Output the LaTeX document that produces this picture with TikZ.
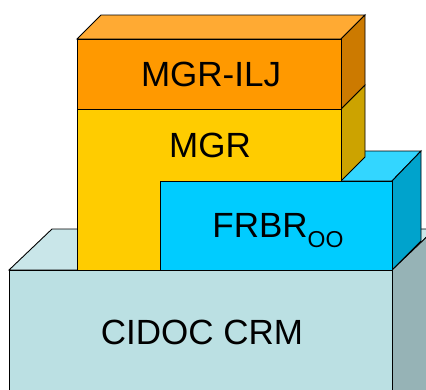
\documentclass[tikz,border=0pt]{standalone}
\usepackage{fontspec}
\setmainfont{Liberation Sans}
\definecolor{iljfront}{HTML}{FF9900}
\definecolor{iljtop}{HTML}{FFAA33}
\definecolor{iljside}{HTML}{CC7A00}
\definecolor{mgrfront}{HTML}{FFCC00}
\definecolor{mgrside}{HTML}{CCA300}
\definecolor{frbrfront}{HTML}{00CCFF}
\definecolor{frbrtop}{HTML}{33D6FF}
\definecolor{frbrside}{HTML}{00A3CC}
\definecolor{crmfront}{HTML}{BBE0E3}
\definecolor{crmtop}{HTML}{C9E6E9}
\definecolor{crmside}{HTML}{96B3B6}
\tikzset{
  face/.style={draw=black, line width=0.9pt, line join=miter},
  layertext/.style={font=\fontsize{35}{40}\selectfont, anchor=base, inner sep=0pt}
}
\begin{document}
\begin{tikzpicture}[x=1pt, y=-1pt]
    \useasboundingbox (0,0) rectangle (426,389);
    \clip (0,0) rectangle (426,389);

    % CIDOC CRM block
    \filldraw[face, fill=crmtop] (9,270) -- (52,229) -- (435,229) -- (392,270) -- cycle;
    \filldraw[face, fill=crmside] (392,270) -- (435,229) -- (435,400) -- (392,400) -- cycle;
    \filldraw[face, fill=crmfront] (9,270) rectangle (392,400);

    % FRBRoo block
    \filldraw[face, fill=frbrtop] (160,181) -- (190,151) -- (421,151) -- (392,181) -- cycle;
    \filldraw[face, fill=frbrside] (392,181) -- (421,151) -- (421,241) -- (392,270) -- cycle;
    \filldraw[face, fill=frbrfront] (160,181) rectangle (392,270);

    % MGR block (L-shaped front)
    \filldraw[face, fill=mgrside] (341,109) -- (365,85) -- (365,157) -- (341,181) -- cycle;
    \filldraw[face, fill=mgrfront] (77,109) -- (341,109) -- (341,181) -- (160,181) -- (160,270) -- (77,270) -- cycle;

    % MGR-ILJ block
    \filldraw[face, fill=iljtop] (77,39) -- (101,15) -- (365,15) -- (341,39) -- cycle;
    \filldraw[face, fill=iljside] (341,39) -- (365,15) -- (365,85) -- (341,109) -- cycle;
    \filldraw[face, fill=iljfront] (77,39) rectangle (341,109);

    % Labels
    \node[layertext] (ilj) at (211,86) {MGR-ILJ};
    \node[layertext] (mgr) at (210,157) {MGR};
    \node[layertext] (frbr) at (278,237) {FRBR\raisebox{-10pt}{\fontsize{23}{23}\selectfont OO}};
    \node[layertext] (crm) at (202,344) {CIDOC CRM};

\end{tikzpicture}
\end{document}
